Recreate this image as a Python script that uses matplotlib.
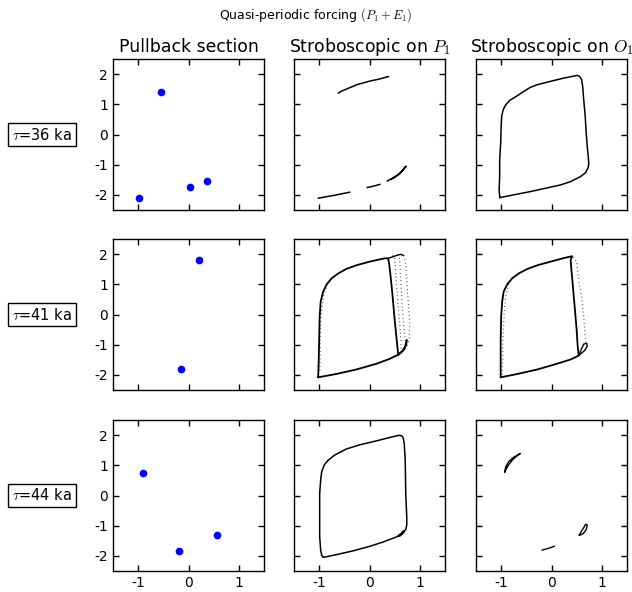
import matplotlib
matplotlib.use("Agg")
import matplotlib.pyplot as plt

plt.rcParams['mathtext.fontset'] = 'cm'
plt.rcParams['axes.unicode_minus'] = False
plt.rcParams['font.family'] = ['DejaVu Sans']
plt.rcParams['lines.solid_joinstyle'] = 'round'
plt.rcParams['lines.solid_capstyle'] = 'round'

row_labels = [r'$\tau$=36 ka', r'$\tau$=41 ka', r'$\tau$=44 ka']
col_titles = ['Pullback section', r'Stroboscopic on $P_1$', r'Stroboscopic on $O_1$']
suptitle = r'Quasi-periodic forcing $(P_1+E_1)$'
xticks = [-1, 0, 1]
yticks = [-2, -1, 0, 1, 2]

# Pullback section points
pb36_x = [-0.54, -0.98, 0.03, 0.36]
pb36_y = [1.41, -2.11, -1.73, -1.53]
pb41_x = [0.20, -0.15]
pb41_y = [1.82, -1.80]
pb44_x = [-0.91, -0.19, 0.57]
pb44_y = [0.76, -1.83, -1.31]

# Stroboscopic on P1, tau=36: solid pieces
sp36_a_x = [-0.62, -0.55, -0.45, -0.35, -0.25, -0.12, 0.01, 0.18, 0.38]
sp36_a_y = [1.37, 1.44, 1.51, 1.58, 1.65, 1.71, 1.77, 1.83, 1.92]
sp36_b_x = [-1.02, -0.72, -0.39]
sp36_b_y = [-2.11, -2.02, -1.91]
sp36_c_x = [-0.05, 0.08, 0.21]
sp36_c_y = [-1.76, -1.71, -1.65]
sp36_d_x = [0.35, 0.45, 0.55, 0.63, 0.69, 0.73, 0.71, 0.67, 0.60, 0.51, 0.43]
sp36_d_y = [-1.54, -1.45, -1.35, -1.24, -1.12, -1.05, -1.07, -1.17, -1.30, -1.41, -1.49]

# Stroboscopic on O1, tau=36: closed loop
so36_x = [-1.03, -0.42, 0.18, 0.38, 0.58, 0.68, 0.73, 0.74, 0.73, 0.71, 0.69, 0.67,
          0.64, 0.62, 0.60, 0.56, 0.51, 0.46, 0.25, -0.02, -0.28, -0.42, -0.52, -0.62,
          -0.72, -0.83, -0.91, -0.96, -0.99, -1.00, -1.01, -1.03, -1.03, -1.04, -1.03,
          -1.03]
so36_y = [-2.09, -1.89, -1.67, -1.56, -1.39, -1.26, -1.08, -0.95, -0.73, -0.40, 0.04, 0.60,
          1.15, 1.59, 1.81, 1.92, 1.96, 1.94, 1.87, 1.76, 1.65, 1.56, 1.46, 1.35,
          1.24, 1.13, 0.98, 0.82, 0.60, 0.27, -0.29, -0.84, -1.39, -1.83, -2.03,
          -2.09]

# Stroboscopic on P1, tau=41: main loop + scattered strands
sp41_x = [-1.02, -0.66, -0.26, 0.14, 0.40, 0.57, 0.54, 0.50, 0.46, 0.42, 0.39, 0.37,
          0.30, 0.00, -0.26, -0.46, -0.62, -0.75, -0.85, -0.92, -0.97, -0.99, -1.00,
          -1.01, -1.02]
sp41_y = [-2.08, -1.97, -1.82, -1.63, -1.47, -1.33, -0.84, -0.18, 0.59, 1.25, 1.69, 1.86,
          1.86, 1.75, 1.63, 1.51, 1.36, 1.20, 1.00, 0.76, 0.43, -0.07, -0.84,
          -1.60, -2.08]
sp41_top_x = [0.37, 0.48, 0.56, 0.63, 0.68]
sp41_top_y = [1.86, 1.92, 1.97, 1.99, 1.95]
sp41_br_x = [0.57, 0.63, 0.68, 0.72, 0.74]
sp41_br_y = [-1.33, -1.25, -1.16, -1.02, -0.85]
sp41_s1_x = [0.68, 0.71, 0.73, 0.75, 0.78, 0.80, 0.79, 0.75, 0.70, 0.60]
sp41_s1_y = [1.95, 1.80, 1.40, 0.83, 0.25, -0.28, -0.83, -1.05, -1.16, -1.27]
sp41_s2_x = [0.45, 0.50, 0.52, 0.54, 0.57, 0.60, 0.63, 0.62]
sp41_s2_y = [1.95, 1.89, 1.40, 0.83, 0.25, -0.28, -1.05, -1.20]
sp41_s3_x = [0.55, 0.60, 0.62, 0.64, 0.67, 0.70, 0.72]
sp41_s3_y = [1.97, 1.85, 1.20, 0.50, -0.20, -0.70, -1.10]
sp41_s4_x = [-0.84, -0.90, -0.94, -0.97, -0.98, -0.98, -0.99]
sp41_s4_y = [1.00, 0.70, 0.30, -0.20, -0.80, -1.40, -1.95]

# Stroboscopic on O1, tau=41
so41_x = [-1.01, -0.68, -0.28, 0.11, 0.38, 0.54, 0.52, 0.50, 0.46, 0.42, 0.39, 0.38,
          0.41, 0.25, -0.02, -0.28, -0.48, -0.65, -0.78, -0.88, -0.95, -0.98, -1.00,
          -1.01, -1.01, -1.01]
so41_y = [-2.08, -1.97, -1.82, -1.63, -1.49, -1.36, -1.05, -0.51, 0.26, 1.03, 1.58, 1.80,
          1.93, 1.87, 1.75, 1.63, 1.51, 1.36, 1.20, 1.00, 0.76, 0.43, -0.07,
          -0.84, -1.60, -2.08]
so41_loop_x = [0.54, 0.59, 0.64, 0.70, 0.71, 0.66, 0.58, 0.54]
so41_loop_y = [-1.36, -1.16, -0.98, -0.95, -1.05, -1.19, -1.30, -1.36]
so41_s1_x = [0.44, 0.50, 0.54, 0.60, 0.64, 0.67, 0.68]
so41_s1_y = [1.91, 1.75, 1.14, 0.59, -0.07, -0.73, -0.95]
so41_s2_x = [-0.85, -0.90, -0.93, -0.95, -0.97, -0.97, -0.98]
so41_s2_y = [1.00, 0.70, 0.30, -0.30, -0.90, -1.50, -2.00]

# Stroboscopic on P1, tau=44: closed loop
sp44_x = [-0.92, -0.95, -0.97, -0.99, -0.99, -0.99, -0.97, -0.95, -0.90, -0.82, -0.69,
          -0.46, -0.19, 0.14, 0.40, 0.57, 0.64, 0.67, 0.69, 0.71, 0.72, 0.74, 0.74,
          0.72, 0.66, 0.54, 0.27, 0.01, -0.32, -0.66, -0.89, -0.92]
sp44_y = [-2.04, -1.98, -1.81, -1.37, -0.49, 0.07, 0.51, 0.78, 1.01, 1.17, 1.34,
          1.54, 1.68, 1.81, 1.92, 1.99, 1.98, 1.91, 1.72, 1.17, 0.07, -0.71, -0.98,
          -1.13, -1.24, -1.37, -1.54, -1.68, -1.83, -1.96, -2.04, -2.04]
sp44_tail_x = [0.59, 0.64, 0.68]
sp44_tail_y = [-1.33, -1.27, -1.19]

# Stroboscopic on O1, tau=44: three small pieces
so44_a_x = [-0.93, -0.91, -0.85, -0.75, -0.62, -0.67, -0.77, -0.84, -0.90, -0.93]
so44_a_y = [0.77, 0.95, 1.12, 1.27, 1.39, 1.33, 1.19, 1.04, 0.88, 0.77]
so44_b_x = [0.55, 0.60, 0.65, 0.68, 0.71, 0.69, 0.63, 0.57, 0.55]
so44_b_y = [-1.31, -1.17, -1.04, -0.95, -0.98, -1.13, -1.26, -1.31, -1.31]
so44_c_x = [-0.19, -0.06, 0.06]
so44_c_y = [-1.81, -1.75, -1.68]

fig = plt.figure(figsize=(6.32, 5.92), dpi=100)
W, H = 632.0, 592.0
lefts = [113, 294, 476]
tops = [59, 239, 420]
size = 151

axes = [[None] * 3 for _ in range(3)]
for r in range(3):
    for c in range(3):
        ax = fig.add_axes([lefts[c] / W, 1 - (tops[r] + size) / H, size / W, size / H])
        ax.set_xlim(-1.5, 1.5)
        ax.set_ylim(-2.5, 2.5)
        ax.set_xticks(xticks)
        ax.set_yticks(yticks)
        ax.tick_params(direction='in', top=True, right=True, length=4, width=1,
                       labelsize=10, color='black')
        if c != 0:
            ax.set_yticklabels([])
        if r != 2:
            ax.set_xticklabels([])
        for s in ax.spines.values():
            s.set_linewidth(1)
        axes[r][c] = ax

for c in range(3):
    axes[0][c].set_title(col_titles[c], fontsize=12.4, pad=5)

for r in range(3):
    yc = 1 - (tops[r] + size / 2) / H
    fig.text(42 / W, yc, row_labels[r], ha='center', va='center', fontsize=10.5,
             bbox=dict(boxstyle='square,pad=0.25', fc='white', ec='black', lw=1))

fig.text(0.5, 1 - 15 / H, suptitle, ha='center', va='center', fontsize=9)

blue = (0, 0, 1)
ms = 4.5
axes[0][0].plot(pb36_x, pb36_y, 'o', color=blue, ms=ms, mec=blue)
axes[1][0].plot(pb41_x, pb41_y, 'o', color=blue, ms=ms, mec=blue)
axes[2][0].plot(pb44_x, pb44_y, 'o', color=blue, ms=ms, mec=blue)

lw = 1.1
ax = axes[0][1]
for xs, ys in [(sp36_a_x, sp36_a_y), (sp36_b_x, sp36_b_y), (sp36_c_x, sp36_c_y), (sp36_d_x, sp36_d_y)]:
    ax.plot(xs, ys, '-', color='black', lw=lw)
axes[0][2].plot(so36_x, so36_y, '-', color='black', lw=lw)

dot = (0, (0.5, 2.5))
ax = axes[1][1]
ax.plot(sp41_x, sp41_y, '-', color='black', lw=1.3)
ax.plot(sp41_top_x, sp41_top_y, '-', color='black', lw=1.0)
ax.plot(sp41_br_x, sp41_br_y, '-', color='black', lw=1.6)
for xs, ys in [(sp41_s1_x, sp41_s1_y), (sp41_s2_x, sp41_s2_y), (sp41_s3_x, sp41_s3_y),
               (sp41_s4_x, sp41_s4_y)]:
    ax.plot(xs, ys, color='black', lw=0.9, linestyle=dot)
ax = axes[1][2]
ax.plot(so41_x, so41_y, '-', color='black', lw=1.3)
ax.plot(so41_loop_x, so41_loop_y, '-', color='black', lw=1.0)
for xs, ys in [(so41_s1_x, so41_s1_y), (so41_s2_x, so41_s2_y)]:
    ax.plot(xs, ys, color='black', lw=0.9, linestyle=dot)

axes[2][1].plot(sp44_x, sp44_y, '-', color='black', lw=lw)
axes[2][1].plot(sp44_tail_x, sp44_tail_y, '-', color='black', lw=2.0)
ax = axes[2][2]
for xs, ys in [(so44_a_x, so44_a_y), (so44_b_x, so44_b_y), (so44_c_x, so44_c_y)]:
    ax.plot(xs, ys, '-', color='black', lw=1.0)

fig.savefig('out.png', dpi=100)
